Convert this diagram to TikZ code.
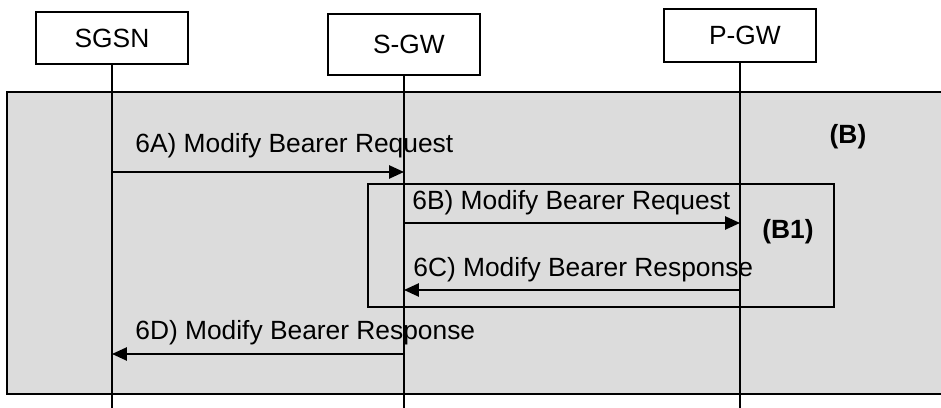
\documentclass[tikz,border=0pt]{standalone}
\usepackage{fontspec}
\setmainfont{Liberation Sans}
\usetikzlibrary{arrows.meta}
\definecolor{bggray}{RGB}{220,220,220}
\tikzstyle{entity}   = [rectangle, draw=black, line width=1pt, fill=white,
                        minimum width=3.04cm, text centered]
\tikzstyle{lifeline} = [line width=1pt]
\tikzstyle{frame}    = [draw=black, line width=1.1pt]
\tikzstyle{msg}      = [-{Triangle[length=8.5pt, width=7.5pt]}, line width=1.1pt]
\tikzstyle{msglabel} = [anchor=base west, inner sep=0pt]
\tikzstyle{tag}      = [font=\fontsize{15}{18}\selectfont\bfseries, inner sep=0pt]

\begin{document}
\begin{tikzpicture}[x=0.02cm, y=-0.02cm, every node/.style={font=\fontsize{15}{18}\selectfont}]
    \useasboundingbox (0,0) rectangle (941,408);

    \node (sgsn) [entity, minimum height=1.04cm] at (112,38) {SGSN};
    \node (sgw)  [entity, minimum height=1.22cm] at (404,44.5) {\hspace*{0.2cm}S-GW};
    \node (pgw)  [entity, minimum height=1.06cm] at (740,35.5) {\hspace*{0.2cm}P-GW};

    \coordinate (sgsnEnd) at (sgsn.south |- 0,410);
    \coordinate (sgwEnd)  at (sgw.south |- 0,410);
    \coordinate (pgwEnd)  at (pgw.south |- 0,410);

    \draw[frame, fill=bggray] (7,92) rectangle (950,394);

    \draw[lifeline] (sgsn.south) -- (sgsnEnd);
    \draw[lifeline] (sgw.south) -- (sgwEnd);
    \draw[lifeline] (pgw.south) -- (pgwEnd);

    \draw[frame] (368,184) rectangle (834,307);
    \node (tagB)  [tag] at (848,137) {(B)};
    \node (tagB1) [tag] at (788,232) {(B1)};

    \coordinate (sgsnA) at (sgsn.south |- 0,172);
    \coordinate (sgwA)  at (sgw.south |- 0,172);
    \coordinate (sgwB)  at (sgw.south |- 0,223);
    \coordinate (pgwB)  at (pgw.south |- 0,223);
    \coordinate (pgwC)  at (pgw.south |- 0,290);
    \coordinate (sgwC)  at (sgw.south |- 0,290);
    \coordinate (sgwD)  at (sgw.south |- 0,354);
    \coordinate (sgsnD) at (sgsn.south |- 0,354);

    \draw[msg] (sgsnA) -- (sgwA);
    \draw[msg] (sgwB) -- (pgwB);
    \draw[msg] (pgwC) -- (sgwC);
    \draw[msg] (sgwD) -- (sgsnD);

    \node (lblA) [msglabel] at (135,153) {6A) Modify Bearer Request};
    \node (lblB) [msglabel] at (412,210) {6B) Modify Bearer Request};
    \node (lblC) [msglabel] at (413,277) {6C) Modify Bearer Response};
    \node (lblD) [msglabel] at (135,340) {6D) Modify Bearer Response};
\end{tikzpicture}
\end{document}
